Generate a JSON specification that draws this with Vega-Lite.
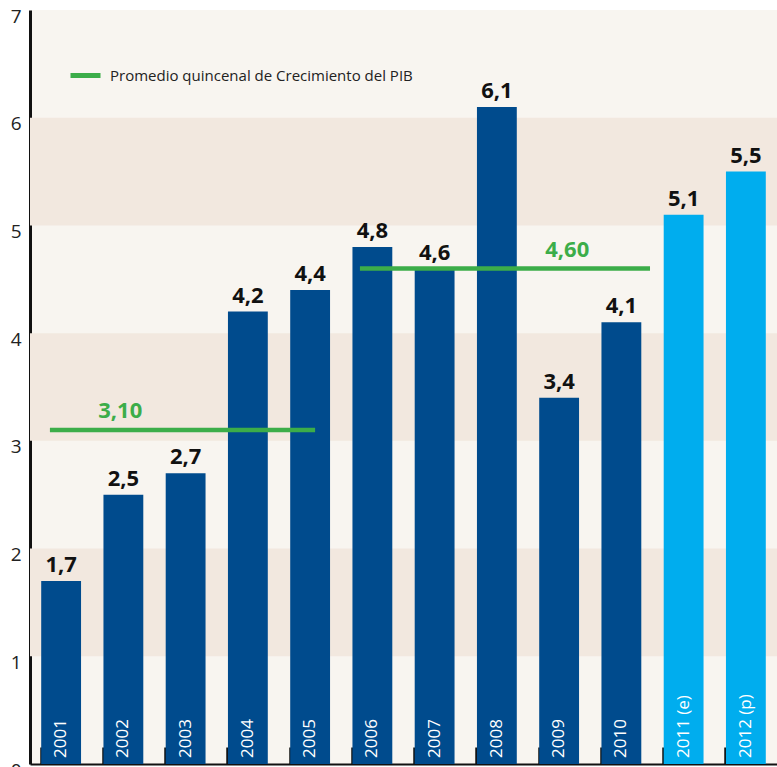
{
  "$schema": "https://vega.github.io/schema/vega-lite/v6.json",
  "width": 747,
  "height": 754,
  "autosize": {"type": "none"},
  "padding": {"left": 30, "top": 10, "right": 0, "bottom": 3},
  "background": "#ffffff",
  "config": {
    "view": {"fill": "#f8f5f0", "stroke": null},
    "font": "Open Sans, sans-serif",
    "locale": {"number": {"decimal": ",", "thousands": ".", "grouping": [3], "currency": ["", " €"]}}
  },
  "datasets": {
    "bands": [{"lo": 1, "hi": 2}, {"lo": 3, "hi": 4}, {"lo": 5, "hi": 6}],
    "bars": [
      {"year": "2001", "value": 1.7, "tipo": "real"},
      {"year": "2002", "value": 2.5, "tipo": "real"},
      {"year": "2003", "value": 2.7, "tipo": "real"},
      {"year": "2004", "value": 4.2, "tipo": "real"},
      {"year": "2005", "value": 4.4, "tipo": "real"},
      {"year": "2006", "value": 4.8, "tipo": "real"},
      {"year": "2007", "value": 4.6, "tipo": "real"},
      {"year": "2008", "value": 6.1, "tipo": "real"},
      {"year": "2009", "value": 3.4, "tipo": "real"},
      {"year": "2010", "value": 4.1, "tipo": "real"},
      {"year": "2011 (e)", "value": 5.1, "tipo": "estimado"},
      {"year": "2012 (p)", "value": 5.5, "tipo": "estimado"}
    ],
    "avgs": [
      {"start": 2000.82, "end": 2005.08, "labelx": 2001.95, "avg": 3.1, "serie": "Promedio quincenal de Crecimiento del PIB"},
      {"start": 2005.8, "end": 2010.46, "labelx": 2009.13, "avg": 4.6, "serie": "Promedio quincenal de Crecimiento del PIB"}
    ]
  },
  "resolve": {"scale": {"x": "independent"}, "axis": {"x": "independent"}},
  "layer": [
    {
      "data": {"name": "bands"},
      "mark": {"type": "rect", "fill": "#f2e8df"},
      "encoding": {
        "y": {"field": "lo", "type": "quantitative", "scale": {"domain": [0, 7], "nice": false},
          "axis": {"title": null, "values": [0,1,2,3,4,5,6,7], "format": "d", "ticks": false, "grid": false, "domainColor": "#111", "domainWidth": 3, "labelFontSize": 19, "labelColor": "#222", "labelPadding": 9, "labelOffset": 6}},
        "y2": {"field": "hi"}
      }
    },
    {
      "data": {"name": "bars"},
      "layer": [
        {
          "mark": {"type": "bar"},
          "encoding": {
            "x": {"field": "year", "type": "nominal", "sort": null,
              "scale": {"paddingInner": 0.36, "paddingOuter": 0.18},
              "axis": {"title": null, "labels": false, "bandPosition": 0, "tickSize": -17, "tickWidth": 2.5, "tickColor": "#111", "domainColor": "#111", "domainWidth": 2}},
            "y": {"field": "value", "type": "quantitative", "scale": {"domain": [0, 7], "nice": false}},
            "color": {"field": "tipo", "type": "nominal", "scale": {"domain": ["real", "estimado"], "range": ["#004b8d", "#00adee"]}, "legend": null}
          }
        },
        {
          "mark": {"type": "text", "baseline": "bottom", "dy": -4, "fontSize": 22, "fontWeight": "bold", "color": "#111"},
          "encoding": {
            "x": {"field": "year", "type": "nominal", "sort": null},
            "y": {"field": "value", "type": "quantitative"},
            "text": {"field": "value", "type": "quantitative", "format": ".1f"}
          }
        },
        {
          "mark": {"type": "text", "angle": 270, "align": "left", "baseline": "middle", "dx": 6, "fontSize": 17, "color": "#ffffff"},
          "encoding": {
            "x": {"field": "year", "type": "nominal", "sort": null},
            "y": {"datum": 0, "type": "quantitative"},
            "text": {"field": "year"}
          }
        }
      ]
    },
    {
      "data": {"name": "avgs"},
      "layer": [
        {
          "mark": {"type": "rule", "strokeWidth": 4.5},
          "encoding": {
            "x": {"field": "start", "type": "quantitative", "scale": {"domain": [2000.5, 2012.5], "nice": false, "zero": false}, "axis": null},
            "x2": {"field": "end"},
            "y": {"field": "avg", "type": "quantitative"},
            "stroke": {"field": "serie", "type": "nominal", "scale": {"range": ["#3cad49"]},
              "legend": {"title": null, "orient": "none", "legendX": 38, "legendY": 48, "symbolType": "stroke", "symbolSize": 900, "symbolStrokeWidth": 5, "labelFontSize": 15, "labelColor": "#222", "labelLimit": 500, "labelOffset": 7, "padding": 0}}
          }
        },
        {
          "mark": {"type": "text", "baseline": "bottom", "dy": -7, "fontSize": 22, "fontWeight": "bold", "color": "#3cad49"},
          "encoding": {
            "x": {"field": "labelx", "type": "quantitative", "scale": {"domain": [2000.5, 2012.5], "nice": false, "zero": false}, "axis": null},
            "y": {"field": "avg", "type": "quantitative"},
            "text": {"field": "avg", "type": "quantitative", "format": ".2f"}
          }
        }
      ]
    }
  ]
}
